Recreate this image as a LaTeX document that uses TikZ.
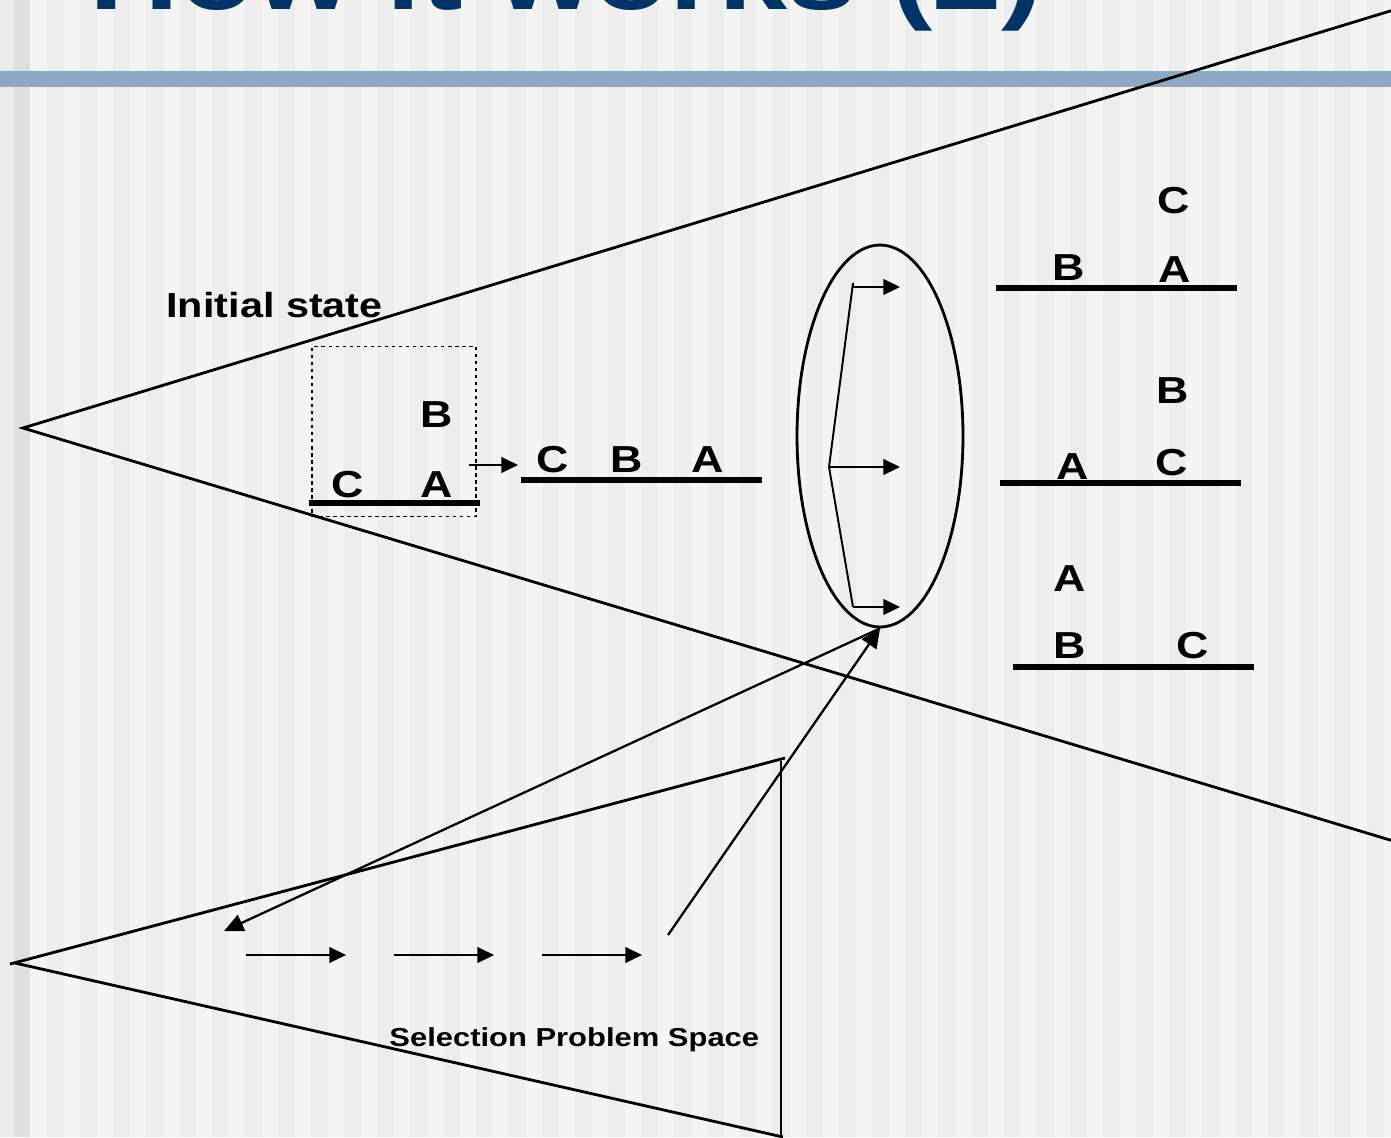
\documentclass[tikz,border=0pt]{standalone}
\usepackage{fontspec}
\setmainfont{Liberation Sans}
\usetikzlibrary{shapes.geometric,arrows.meta,positioning}
\definecolor{titlecolor}{RGB}{0,51,102}
\definecolor{barcolor}{RGB}{143,168,193}
\definecolor{bgcolor}{RGB}{244,244,244}
\definecolor{stripecolor}{RGB}{237,237,237}
\definecolor{edgecolor}{RGB}{235,235,235}
\definecolor{edgedarkcolor}{RGB}{223,223,223}
\tikzset{
    blocklabel/.style={
        font=\fontsize{21.4}{24}\selectfont\bfseries,
        xscale=1.19,
        anchor=base,
        inner sep=0pt
    },
    caption/.style={anchor=base west, inner sep=0pt, xscale=1.19},
    tableline/.style={line width=3pt},
    spaceedge/.style={line width=1.6pt},
    fanline/.style={line width=1.1pt},
    link/.style={line width=1.3pt},
    arrow/.style={-{Triangle[length=9.5pt,width=9pt]}, line width=0.9pt},
    statebox/.style={
        rectangle,
        draw,
        dash pattern=on 2pt off 2pt,
        line width=1pt,
        minimum width=3.28cm,
        minimum height=3.4cm,
        inner sep=0pt
    }
}

\begin{document}
\begin{tikzpicture}[x=0.02cm, y=-0.02cm]
    \useasboundingbox (0,0) rectangle (1391,1137);
    \clip (0,0) rectangle (1391,1137);

    % Background
    \fill[bgcolor] (0,0) rectangle (1391,1137);
    \foreach \i in {0,...,41}
        \fill[stripecolor] (47+33*\i,0) rectangle ++(16.5,1137);
    \fill[edgecolor] (0,0) rectangle (14,1137);
    \fill[edgedarkcolor] (14,0) rectangle (30,1137);
    \fill[barcolor] (0,71) rectangle (1391,87);

    % Title
    \node[caption, font=\fontsize{59.5}{62}\selectfont\bfseries, text=titlecolor] (title) at (89,9) {How it works (2)};

    % Problem spaces
    \draw[spaceedge] (1400,8) -- (23,428) -- (1400,843);
    \draw[spaceedge] (785,758) -- (10,964);
    \draw[spaceedge] (15,963) -- (783,1137);
    \draw[line width=1.4pt] (781,761) -- (781,1137);

    % Initial state
    \node[caption, font=\fontsize{19.8}{22}\selectfont\bfseries] (initlabel) at (166,317) {Initial state};
    \node[statebox] (initbox) at (394,431.5) {};
    \draw[tableline] (309,503) -- (480,503);
    \node[blocklabel] (ic) at (348,497) {C};
    \node[blocklabel] (ia) at (437,497) {A};
    \node[blocklabel] (ib) at (437,427) {B};

    % Current state
    \coordinate (initout) at (469,465);
    \coordinate (midin) at (518,465);
    \draw[arrow] (initout) -- (midin);
    \draw[tableline] (521,480) -- (762,480);
    \node[blocklabel] (mc) at (553,472) {C};
    \node[blocklabel] (mb) at (627,472) {B};
    \node[blocklabel] (ma) at (708,472) {A};

    % Choices
    \node[ellipse, draw, line width=1.6pt, minimum width=3.32cm, minimum height=7.64cm, inner sep=0pt] (choice) at (880,436) {};
    \coordinate (fanroot) at (829,467);
    \coordinate (fanup) at (853,283);
    \coordinate (fandown) at (853,607);
    \draw[fanline] (853,287) -- (fanup) -- (fanroot) -- (fandown);
    \coordinate (opt1s) at (853,287);
    \coordinate (opt1e) at (900,287);
    \coordinate (opt2e) at (900,467);
    \coordinate (opt3e) at (900,607);
    \draw[arrow] (opt1s) -- (opt1e);
    \draw[arrow] (fanroot) -- (opt2e);
    \draw[arrow] (fandown) -- (opt3e);

    % Resulting states
    \draw[tableline] (996,288) -- (1237,288);
    \node[blocklabel] (r1c) at (1174,213) {C};
    \node[blocklabel] (r1b) at (1069,280) {B};
    \node[blocklabel] (r1a) at (1175,282) {A};

    \draw[tableline] (1000,483) -- (1241,483);
    \node[blocklabel] (r2b) at (1173,403) {B};
    \node[blocklabel] (r2a) at (1073,479) {A};
    \node[blocklabel] (r2c) at (1172,475) {C};

    \draw[tableline] (1013,667) -- (1254,667);
    \node[blocklabel] (r3a) at (1070,591) {A};
    \node[blocklabel] (r3b) at (1070,658) {B};
    \node[blocklabel] (r3c) at (1193,658) {C};

    % Selection steps
    \foreach \x [count=\i] in {246,394,542} {
        \coordinate (selA\i) at (\x,955);
        \coordinate (selB\i) at (\x+100,955);
        \draw[arrow] (selA\i) -- (selB\i);
    }
    \coordinate (selin) at (224,931);
    \coordinate (selout) at (668,935);
    \draw[link, -{Triangle[length=11pt,width=10pt]}] (choice.south) -- (selin);
    \draw[link, -{Triangle[length=11pt,width=10pt]}] (selout) -- (choice.south);

    \node[caption, font=\fontsize{14.8}{17}\selectfont\bfseries] (sellabel) at (389,1046) {Selection Problem Space};
\end{tikzpicture}
\end{document}
